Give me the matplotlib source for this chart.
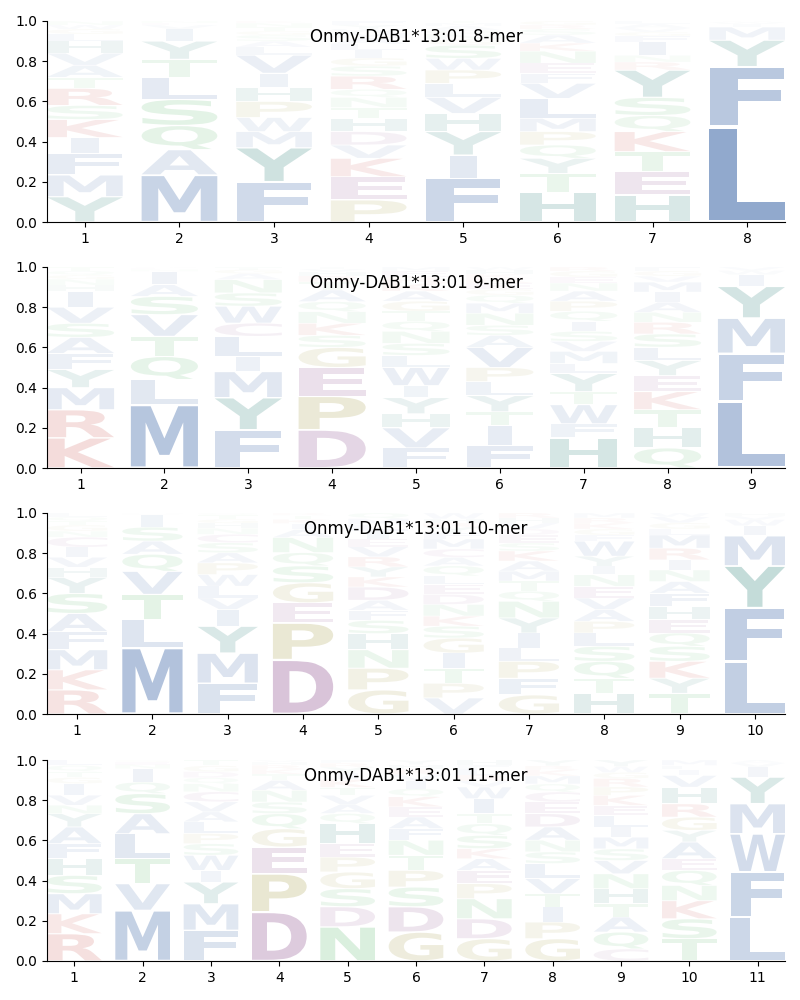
import matplotlib
matplotlib.use('Agg')
import matplotlib.pyplot as plt
from matplotlib.textpath import TextPath
from matplotlib.patches import PathPatch
from matplotlib.font_manager import FontProperties
from matplotlib.transforms import Affine2D

# letters per column, bottom to top, and their heights (frequencies)
mer8_letters = ["YMFIKSRTAVHLGWN", "MAQSLTYIVEN", "FYMWPHIVLASGTNK", "PEKVDHTNQRSGILAMWYF",
                "FIYHVLPWSGNQAMT", "HTYQPMLVFENKASRG", "HETKQSYRNIFGVAL", "LFYMIWV"]
mer8_heights = [
    [.126, .108, .106, .08, .09, .07, .085, .055, .06, .06, .06, .035, .025, .02, .02],
    [.234, .126, .12, .13, .11, .09, .09, .06, .02, .01, .01],
    [.2, .17, .08, .07, .08, .07, .07, .09, .04, .03, .03, .02, .02, .02, .01],
    [.11, .115, .092, .066, .067, .066, .054, .05, .04, .066, .05, .04, .04, .03, .03, .025, .02, .02, .019],
    [.217, .116, .117, .09, .08, .07, .066, .058, .066, .03, .025, .02, .02, .015, .01],
    [.146, .096, .075, .066, .067, .066, .099, .075, .05, .05, .06, .04, .04, .03, .02, .02],
    [.134, .116, .1, .1, .08, .09, .136, .04, .033, .066, .03, .02, .02, .02, .015],
    [.474, .299, .132, .065, .015, .01, .005],
]

mer9_letters = ["KRMYFASVIHNGQT", "MLQTVSAINEG", "FYMILCWSNAGT", "DPEGSKNQATRHVI",
                "FVHYIWLSNQTGAKREM", "FITYLPVASNMQGERKHW", "HFWTYLMVSIQPANEGR",
                "QHTKEYLSRNAIMVGF", "LFMYIWV"]
mer9_heights = [
    [.15, .14, .11, .09, .08, .08, .07, .08, .08, .03, .03, .02, .02, .02],
    [.315, .125, .115, .1, .108, .091, .058, .066, .01, .007, .005],
    [.19, .16, .13, .075, .1, .066, .084, .066, .066, .03, .02, .013],
    [.19, .167, .143, .1, .06, .06, .058, .05, .058, .04, .03, .02, .014, .01],
    [.1, .1, .07, .08, .06, .09, .06, .06, .06, .05, .05, .05, .05, .04, .03, .03, .02],
    [.11, .1, .07, .08, .07, .07, .1, .06, .05, .06, .05, .04, .03, .03, .024, .02, .02, .016],
    [.15, .07, .095, .065, .09, .05, .06, .05, .05, .05, .05, .05, .05, .04, .03, .03, .02],
    [.1, .1, .09, .09, .08, .075, .066, .066, .058, .05, .05, .05, .05, .03, .025, .02],
    [.33, .24, .176, .158, .058, .02, .018],
]

mer10_letters = ["RKMFASYHVICNGTQL", "MLTVQASIEN", "FMYIVLWPASCNHGTQ", "DPEGSQNAIKTR",
                 "GPNHSFADKYRVEILMQ", "VPTIGSKNDELQACMFYRHW", "GFPLIYNQTMAKSEDVHR",
                 "HTQSLPAVENIYWFGKRM", "TYKSQEHFANIRMLGVW", "LFYMIWVH"]
mer10_heights = [
    [.12, .1, .1, .09, .09, .1, .08, .05, .05, .05, .05, .03, .03, .02, .02, .02],
    [.33, .14, .125, .115, .085, .065, .07, .06, .005, .005],
    [.153, .15, .134, .083, .058, .058, .058, .058, .05, .05, .042, .03, .025, .02, .02, .011],
    [.27, .183, .1, .1, .084, .066, .075, .04, .03, .02, .02, .012],
    [.12, .108, .092, .08, .066, .05, .05, .066, .05, .05, .05, .05, .04, .04, .03, .03, .028],
    [.08, .073, .075, .075, .075, .059, .05, .058, .05, .05, .042, .05, .042, .042, .05, .03, .03, .02, .02, .029],
    [.095, .083, .084, .066, .075, .075, .083, .05, .05, .05, .05, .05, .04, .04, .03, .03, .025, .024],
    [.103, .075, .084, .075, .066, .058, .058, .058, .058, .058, .042, .05, .075, .03, .03, .03, .025, .025],
    [.103, .075, .084, .075, .066, .066, .066, .066, .058, .058, .05, .058, .066, .03, .03, .03, .019],
    [.262, .266, .209, .15, .05, .03, .018, .015],
]

mer11_letters = ["RKMSHFAYNVIGTQL", "MVTLASQINEG", "FMYIWSPLAVCNQDGT", "DPEGQSNATKRHV",
                 "NDSGPEHQAVTKIYRF", "GDSPTNFAEKQIVRHY", "GDNPEAKSQTIWVRLFH",
                 "GPITVLSNADECQMKRY", "CQATHNVSMILEKPRGWY", "TSKNQEAYGRHVILM", "LFWMYIVA"]
mer11_heights = [
    [.136, .099, .1, .091, .083, .075, .083, .066, .042, .05, .058, .03, .03, .03, .027],
    [.252, .133, .124, .124, .1, .1, .057, .067, .02, .013, .01],
    [.153, .132, .108, .058, .075, .058, .05, .058, .05, .05, .05, .04, .03, .03, .03, .028],
    [.244, .19, .133, .091, .075, .058, .058, .05, .03, .025, .02, .015, .011],
    [.17, .1, .09, .083, .074, .067, .1, .05, .045, .045, .04, .04, .03, .03, .02, .016],
    [.144, .126, .098, .083, .075, .075, .058, .058, .05, .05, .04, .04, .03, .03, .02, .023],
    [.111, .099, .1, .075, .066, .058, .05, .066, .058, .05, .075, .058, .03, .03, .03, .02, .024],
    [.111, .083, .075, .066, .075, .075, .058, .058, .066, .066, .058, .05, .04, .04, .03, .02, .029],
    [.06, .084, .075, .066, .075, .074, .066, .058, .058, .05, .058, .05, .05, .042, .042, .03, .03, .032],
    [.111, .099, .09, .076, .075, .058, .083, .058, .066, .066, .083, .058, .03, .02, .027],
    [.219, .224, .19, .15, .132, .05, .02, .015],
]

titles = ["Onmy-DAB1*13:01 8-mer", "Onmy-DAB1*13:01 9-mer",
          "Onmy-DAB1*13:01 10-mer", "Onmy-DAB1*13:01 11-mer"]

# colour groups
group_colors = {
    'blue': '#2c5aa0', 'teal': '#00685e', 'red': '#c0302a',
    'purple': '#803c82', 'green': '#3caa50', 'olive': '#968c28',
}
letter_group = {}
for c in "AFILMVW":
    letter_group[c] = 'blue'
for c in "HY":
    letter_group[c] = 'teal'
for c in "KR":
    letter_group[c] = 'red'
for c in "CDE":
    letter_group[c] = 'purple'
for c in "STNQ":
    letter_group[c] = 'green'
for c in "PG":
    letter_group[c] = 'olive'

fp = FontProperties(family='DejaVu Sans', weight='bold')
e_bbox = TextPath((0, 0), 'E', size=1, prop=fp).get_extents()
WIDTH = 0.8
VPAD = 0.05


def draw_letter(ax, ch, x, y0, h, color, alpha):
    tp = TextPath((0, 0), ch, size=1, prop=fp)
    bb = tp.get_extents()
    # narrow letters (like I) are not stretched to full width
    sx = min(WIDTH / bb.width, WIDTH / e_bbox.width)
    sy = h * (1 - VPAD) / bb.height
    cw = bb.width * sx
    tr = Affine2D().translate(-bb.x0, -bb.y0).scale(sx, sy).translate(x - cw / 2, y0 + h * VPAD / 2)
    ax.add_patch(PathPatch(tr.transform_path(tp), fc=color, ec='none', alpha=alpha))


panels = [(mer8_letters, mer8_heights), (mer9_letters, mer9_heights),
          (mer10_letters, mer10_heights), (mer11_letters, mer11_heights)]
bottoms = [0.778, 0.532, 0.286, 0.039]

fig = plt.figure(figsize=(8, 10), dpi=100)
for (letters, heights), title, b in zip(panels, titles, bottoms):
    ax = fig.add_axes([0.05875, b, 0.9225, 0.201])
    n = len(letters)
    for i in range(n):
        y = 0.0
        for ch, h in zip(letters[i], heights[i]):
            col = group_colors[letter_group[ch]]
            draw_letter(ax, ch, i + 1, y, h, col, min(1.0, 1.1 * h))
            y += h
    ax.set_xlim(0.6, n + 0.4)
    ax.set_ylim(0, 1)
    ax.set_xticks(range(1, n + 1))
    ax.set_yticks([0, 0.2, 0.4, 0.6, 0.8, 1.0])
    ax.spines['top'].set_visible(False)
    ax.spines['right'].set_visible(False)
    ax.text(0.5, 0.92, title, transform=ax.transAxes, ha='center', va='center', fontsize=12)

fig.savefig('out.png', dpi=100)
